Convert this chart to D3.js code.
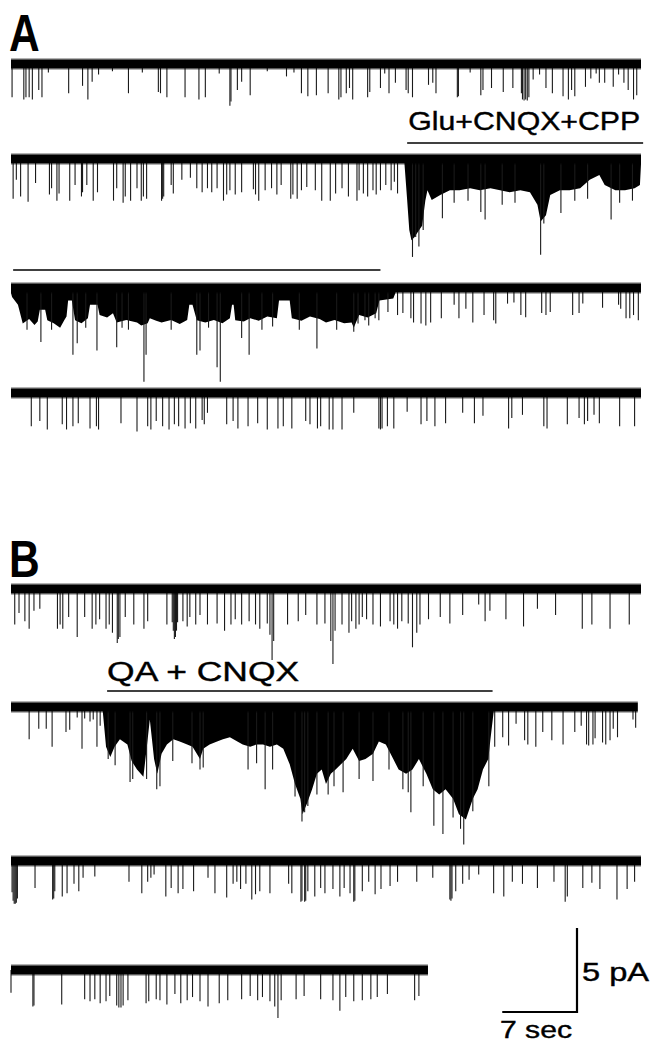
<!DOCTYPE html>
<html><head><meta charset="utf-8">
<script src="https://cdn.jsdelivr.net/npm/d3@7/dist/d3.min.js"></script>
<style>html,body{margin:0;padding:0;background:#fff}svg{display:block}</style>
</head><body>
<script>
// ---- data: time (s) and inward current amplitude (pA) of events ----
const traceA1 = [[0.1,1.98],[1.2,2.11],[1.4,1.98],[1.7,1.98],[2.0,2.11],[2.6,1.55],[2.9,1.98],[3.5,0.5],[5.4,1.74],[6.7,1.3],[7.2,2.11],[7.6,1.05],[8.2,0.62],[9.5,0.43],[11.0,1.74],[12.3,0.5],[13.8,1.67],[14.0,1.74],[14.6,1.98],[16.3,1.98],[17.6,2.11],[18.2,1.98],[19.5,0.56],[20.5,2.48],[20.6,2.23],[21.2,1.55],[21.6,1.05],[22.4,1.86],[24.0,0.43],[25.8,0.74],[26.5,0.5],[27.2,1.74],[27.8,1.92],[28.6,1.86],[29.7,1.74],[30.7,2.11],[30.9,1.98],[31.4,1.74],[31.7,1.43],[32.0,2.11],[33.4,1.98],[33.6,1.67],[34.6,1.43],[35.0,0.56],[35.4,1.74],[36.0,1.12],[37.0,1.55],[37.2,1.74],[37.6,1.98],[39.1,1.24],[39.5,1.12],[39.8,1.74],[41.8,1.98],[41.9,1.92],[43.0,0.5],[44.0,1.86],[44.2,1.55],[45.0,1.43],[46.1,1.67],[47.0,1.43],[47.8,1.74],[47.9,2.11],[48.05,2.17],[48.2,2.11],[48.35,2.17],[48.5,1.98],[48.9,0.93],[49.5,0.62],[50.1,1.43],[50.7,1.74],[51.7,1.92],[52.2,2.11],[52.5,1.55],[52.8,1.92],[53.8,1.36],[54.3,0.87],[54.8,0.56],[55.1,1.12],[55.6,1.12],[56.4,1.36],[56.9,0.62],[57.4,1.12],[57.8,1.55],[58.3,2.11],[58.6,1.86]];
const traceA2 = [[0.2,2.36],[0.5,1.24],[0.9,2.23],[1.6,2.54],[2.3,1.43],[3.6,2.11],[3.8,1.74],[4.3,2.48],[4.5,2.05],[5.5,2.48],[6.0,1.55],[6.6,2.23],[6.7,1.98],[7.1,1.55],[7.7,2.48],[8.1,1.98],[9.6,2.48],[9.9,1.74],[10.5,2.6],[10.7,2.23],[11.2,2.48],[11.8,1.74],[12.2,2.48],[12.4,2.23],[12.7,2.36],[14.1,2.48],[14.2,2.36],[14.3,2.23],[15.0,1.55],[15.2,2.05],[16.0,1.24],[16.8,1.12],[17.4,1.74],[17.9,1.98],[18.4,1.74],[18.8,1.98],[19.3,1.74],[19.9,2.48],[20.2,2.11],[20.5,1.86],[21.0,2.11],[21.6,1.98],[22.7,1.8],[22.9,2.11],[23.2,2.48],[23.8,1.86],[24.4,1.74],[24.9,2.11],[25.3,1.55],[26.2,2.36],[26.4,2.11],[26.8,2.36],[27.2,1.86],[27.7,1.67],[28.5,1.86],[29.1,2.48],[29.9,2.48],[30.4,2.05],[31.0,1.74],[31.6,2.23],[32.4,2.48],[32.6,1.86],[33.0,2.05],[33.4,2.23],[33.9,1.86],[34.2,2.11],[34.6,1.86],[35.1,1.55],[35.6,1.86],[35.9,1.36],[36.2,2.05],
  [37.6,5.83],[37.9,4.65],[38.2,5.21],[38.6,4.22],[40.4,3.53],[41.5,2.6],[42.8,2.48],[44.0,3.16],[44.4,3.6],[46.0,2.73],[47.2,2.6],[49.6,5.7],[49.9,3.84],[51.5,3.22],[52.8,2.48],[54.0,2.36],[56.2,3.6],[57.0,2.6],[58.2,2.48]];
const burstA2 = [[36.85,0.3],[37.1,2.44],[37.3,4.22],[37.5,4.84],[37.8,4.65],[38.1,4.34],[38.5,3.97],[38.8,2.48],[39.0,1.86],[39.4,2.44],[40.2,2.15],[41.1,1.86],[42.0,1.86],[43.0,1.74],[43.9,1.86],[44.9,1.74],[45.8,1.86],[46.7,1.98],[47.7,1.86],[48.6,1.98],[49.3,2.73],[49.6,3.72],[50.1,3.35],[50.5,2.15],[51.4,1.86],[52.3,1.86],[53.3,1.74],[54.2,1.24],[55.1,0.95],[55.6,1.55],[56.6,1.86],[57.5,1.86],[58.4,1.74],[58.9,1.55],[59.0,0.3]];
const traceA3 = [[1.5,2.48],[2.8,3.22],[3.8,2.48],[5.8,3.97],[6.2,3.29],[7.0,2.36],[8.05,3.72],[9.9,3.53],[10.4,2.36],[11.0,2.48],[12.45,5.58],[12.65,3.97],[15.0,2.48],[17.4,3.97],[17.7,3.72],[18.5,2.36],[19.3,4.71],[19.6,5.58],[21.6,2.98],[22.3,3.97],[23.5,2.48],[24.5,2.29],[27.0,2.48],[28.65,3.6],[30.5,2.48],[32.1,2.6],[33.5,2.23],
  [32.5,2.11],[33.15,1.92],[34.1,1.8],[34.45,1.92],[35.3,1.43],[36.2,1.61],[36.7,1.49],[37.45,1.8],[37.7,2.05],[38.4,2.11],[38.85,2.23],[39.3,2.05],[40.3,1.8],[41.5,0.99],[41.95,1.8],[42.6,1.24],[43.25,2.05],[44.3,1.61],[45.2,1.92],[45.4,2.11],[46.5,0.93],[47.1,0.87],[47.75,1.61],[48.2,1.74],[49.7,1.49],[50.1,1.61],[50.5,1.43],[52.6,1.61],[53.2,1.49],[53.55,0.93],[55.4,1.18],[56.9,0.99],[57.1,1.24],[57.6,1.8],[57.95,1.8],[58.3,1.61],[58.75,1.92]];
const burstA3 = [[0.0,0.3],[0.1,0.53],[0.65,0.99],[1.1,2.11],[1.7,1.85],[2.2,2.2],[2.5,2.0],[2.7,1.3],[3.2,1.3],[3.4,1.92],[4.0,2.1],[4.6,2.36],[5.0,1.9],[5.2,1.7],[5.35,0.74],[5.7,0.74],[6.0,1.92],[6.6,2.1],[7.2,1.8],[7.4,0.99],[8.1,0.99],[8.3,1.61],[9.0,1.75],[9.55,1.5],[9.9,2.05],[10.8,1.9],[11.8,2.05],[12.2,2.23],[12.8,2.1],[13.0,1.8],[13.6,1.95],[14.1,2.05],[15.0,1.9],[15.8,2.15],[16.5,1.9],[16.7,0.99],[17.0,0.99],[17.4,1.92],[18.2,2.05],[19.0,1.9],[19.8,2.1],[20.5,1.8],[20.7,0.99],[20.85,0.99],[21.0,1.92],[21.8,2.0],[22.4,1.8],[23.2,1.95],[24.0,1.7],[24.9,1.8],[25.1,0.74],[26.1,0.74],[26.3,1.8],[27.2,1.95],[28.0,1.7],[28.9,1.85],[29.5,2.05],[30.3,1.9],[31.2,2.1],[31.9,2.05],[32.1,2.36],[32.6,1.61],[33.4,1.75],[34.2,1.5],[34.5,0.74],[35.8,0.62],[36.0,0.3]];
const traceA4 = [[1.9,1.98],[2.7,1.67],[3.4,2.17],[4.8,1.86],[5.2,2.17],[5.8,1.98],[6.3,1.8],[7.4,2.11],[8.0,1.98],[8.2,2.17],[10.3,1.8],[11.8,2.29],[12.8,1.98],[13.1,2.17],[13.6,1.67],[14.2,1.98],[14.8,2.17],[15.3,1.86],[15.7,1.98],[16.3,2.11],[16.8,1.8],[17.3,2.11],[17.9,1.61],[18.1,1.86],[18.4,1.18],[20.2,1.86],[20.8,1.67],[21.25,2.11],[22.2,1.98],[23.1,1.8],[24.0,2.17],[25.0,2.11],[25.5,1.98],[26.3,2.11],[27.6,1.67],[28.0,1.86],[28.7,2.11],[29.0,1.98],[29.8,2.17],[30.15,2.17],[31.0,2.17],[32.1,1.18],[34.45,2.11],[34.6,2.17],[34.75,2.11],[35.25,1.98],[35.85,2.11],[37.1,1.12],[38.4,1.86],[38.95,1.67],[39.7,1.98],[40.7,1.8],[42.3,1.18],[43.4,1.8],[44.2,1.36],[46.6,2.11],[46.9,1.49],[47.9,1.3],[49.9,1.98],[50.2,2.11],[52.1,1.86],[53.2,1.49],[53.7,1.86],[54.0,1.67],[54.6,1.3],[55.1,1.8],[57.0,1.98],[58.4,1.98]];
const traceB1 = [[0.35,2.11],[0.75,1.43],[1.3,1.92],[1.7,2.36],[2.15,1.3],[2.7,1.18],[4.35,2.36],[4.6,2.11],[4.85,2.36],[5.4,1.67],[6.2,2.85],[6.9,1.67],[7.6,2.36],[7.95,2.11],[8.3,1.8],[8.9,2.36],[9.2,2.11],[9.5,2.6],[9.95,3.22],[10.05,2.98],[10.2,2.85],[10.7,1.67],[11.5,2.11],[12.45,2.36],[12.8,1.92],[14.6,2.11],[15.1,1.98],[15.2,2.48],[15.3,2.98],[15.4,2.85],[15.5,2.48],[15.6,1.98],[16.1,1.92],[16.5,2.23],[16.75,1.67],[17.3,2.11],[17.7,1.55],[18.4,2.11],[19.3,2.05],[20.0,2.48],[20.6,2.11],[21.0,1.8],[21.6,2.11],[22.3,1.92],[22.9,2.11],[23.3,2.36],[24.0,2.05],[24.25,2.73],[24.45,4.22],[24.6,3.1],[25.9,2.11],[26.9,1.92],[27.6,1.55],[28.65,2.11],[29.4,2.05],[29.95,3.1],[30.15,4.46],[30.35,2.48],[31.0,2.11],[31.65,2.6],[31.9,1.92],[32.3,2.36],[32.6,2.11],[32.9,1.67],[33.3,1.8],[33.9,2.11],[34.6,2.23],[35.5,1.92],[35.85,2.11],[36.2,2.36],[36.6,1.92],[37.2,2.05],[37.6,3.47],[38.0,2.6],[38.3,2.11],[39.1,1.8],[40.2,1.67],[41.1,2.05],[42.3,1.55],[43.8,0.93],[44.4,1.92],[44.85,1.3],[46.35,1.8],[48.0,2.23],[49.3,1.18],[51.0,1.55],[53.5,2.36],[54.4,2.11],[56.1,2.36],[57.9,2.11]];
const traceB2 = [[1.7,1.92],[2.6,1.3],[3.3,1.3],[3.85,2.36],[5.15,1.49],[5.5,1.36],[6.2,0.62],[6.65,2.48],[6.9,0.68],[7.4,0.87],[7.7,0.74],[8.05,2.36],[8.35,1.12],
  [9.1,3.1],[9.75,3.47],[11.15,4.46],[11.4,4.28],[12.7,4.28],[13.65,4.9],[13.95,4.71],[15.15,3.22],[16.95,3.35],[17.7,3.72],[18.0,3.6],[22.2,3.72],[23.0,3.35],[23.8,4.9],[24.5,3.72],[26.6,5.33],[27.25,6.82],[27.5,6.26],[27.8,5.89],[28.65,5.21],[29.7,5.21],[30.25,4.71],[31.1,5.08],[32.6,4.28],[33.9,4.4],[35.4,3.72],[36.7,4.9],[37.2,5.08],[37.45,6.26],[38.6,4.71],[39.6,7.07],[40.45,7.56],[41.4,6.57],[42.1,7.25],[42.4,8.18],[43.25,6.2],[44.75,4.71],
  [45.3,2.36],[46.05,1.8],[46.6,2.29],[47.3,0.99],[48.1,1.98],[48.4,2.23],[49.15,2.36],[49.8,1.49],[50.65,1.98],[51.7,2.23],[52.8,1.49],[53.4,1.12],[53.9,2.23],[54.1,2.29],[54.5,2.23],[54.7,1.86],[55.4,2.11],[55.7,2.23],[56.1,1.98],[56.4,1.3],[56.8,1.8],[58.25,0.74],[58.5,1.24]];
const burstB2 = [[8.6,0.3],[8.9,2.36],[9.3,2.98],[9.7,2.36],[10.2,1.92],[10.9,2.23],[11.3,3.22],[11.8,3.72],[12.4,4.15],[12.7,2.48],[13.0,0.74],[13.4,3.1],[13.7,3.97],[14.1,2.79],[14.6,2.23],[15.2,1.92],[15.8,2.05],[16.5,2.23],[17.0,2.36],[17.7,3.1],[18.0,2.48],[18.6,2.23],[19.3,2.05],[19.85,1.92],[20.5,1.8],[21.2,2.05],[21.7,2.23],[22.4,2.36],[23.0,2.23],[23.6,2.23],[24.25,2.36],[24.9,2.23],[25.5,2.48],[26.1,3.41],[26.6,4.59],[27.1,5.46],[27.3,6.39],[27.7,5.77],[28.2,4.9],[28.65,3.97],[29.1,3.72],[29.5,4.59],[29.95,3.97],[30.4,3.72],[30.9,3.41],[31.4,3.1],[32.0,2.48],[32.6,3.22],[33.2,3.1],[33.9,2.79],[34.45,2.05],[35.1,2.23],[35.8,3.1],[36.3,3.72],[37.0,3.97],[37.6,3.72],[38.2,3.1],[38.9,3.97],[39.5,4.9],[40.1,5.21],[40.7,4.9],[41.4,5.46],[41.95,6.39],[42.6,6.7],[43.25,5.46],[43.7,4.9],[44.2,3.72],[44.7,3.1],[44.9,1.92],[45.2,0.3]];
const traceB3 = [[0.1,1.86],[0.2,2.36],[0.3,2.54],[0.4,2.54],[0.5,2.48],[0.6,2.23],[2.25,1.61],[3.9,2.29],[4.0,2.23],[4.1,1.8],[4.8,2.11],[5.25,1.92],[5.9,1.36],[6.35,1.8],[6.75,0.99],[7.85,0.93],[11.05,1.24],[12.25,1.92],[12.8,1.24],[13.1,0.99],[13.4,0.8],[14.5,2.11],[15.0,1.61],[15.65,1.92],[16.1,1.67],[17.1,1.8],[18.45,0.99],[19.1,1.92],[20.2,2.17],[20.8,1.36],[21.15,1.24],[21.5,1.67],[22.0,1.36],[22.55,2.29],[22.9,1.98],[23.3,1.8],[24.25,1.92],[26.0,1.36],[26.3,1.92],[27.15,2.42],[27.25,2.36],[27.5,2.42],[27.6,2.36],[27.8,1.8],[28.45,2.11],[29.0,1.61],[29.4,1.92],[30.15,1.67],[30.8,2.11],[31.2,1.61],[31.75,1.92],[32.1,2.42],[32.2,2.36],[32.9,1.8],[33.5,1.24],[34.1,1.98],[34.65,1.67],[35.5,1.49],[36.2,1.24],[38.0,1.24],[39.5,0.99],[41.1,2.29],[41.2,2.36],[41.3,2.23],[41.65,1.8],[42.3,1.36],[42.9,1.12],[43.8,0.8],[45.2,1.92],[46.15,2.11],[46.95,1.24],[47.9,1.36],[49.3,1.61],[50.85,1.24],[51.9,2.42],[52.1,2.11],[53.55,1.61],[54.4,1.3],[55.15,1.67],[56.75,2.29],[57.7,1.67],[58.4,1.24]];
const traceB4 = [[0.0,1.36],[2.05,2.17],[2.15,2.11],[4.75,2.05],[6.9,1.74],[7.4,1.86],[7.85,1.74],[8.35,1.98],[8.9,1.86],[9.25,1.55],[9.9,2.11],[10.1,2.23],[10.3,2.23],[10.5,2.11],[10.95,1.8],[12.65,1.98],[12.9,1.86],[13.6,1.74],[13.95,1.8],[14.6,2.05],[15.35,1.43],[15.9,1.98],[16.5,1.8],[17.0,1.61],[17.7,1.86],[18.45,2.17],[19.5,1.98],[20.3,1.8],[21.6,1.74],[22.4,1.55],[23.1,1.8],[23.55,1.61],[24.25,1.86],[24.7,2.17],[25.0,2.85],[25.3,1.8],[26.7,1.74],[27.45,1.55],[29.0,1.74],[30.15,1.8],[30.8,2.42],[31.35,1.61],[32.1,1.86],[32.9,1.8],[33.7,1.74],[34.3,1.61],[35.25,1.43],[37.8,1.8],[38.2,1.55]];
// duration of each sweep (s)
const sweepA = [59, 59, 59, 59];
const sweepB = [59, 58.7, 59, 39.05];
// annotation texts and drug-application windows (s)
const panelLabels = ["A", "B"];
const drugLabels = ["Glu+CNQX+CPP", "QA + CNQX"];
const drugGlu = [[37.1, 59.2], [0.2, 34.6]];   // bar spans two sweeps
const drugQA = [9.0, 45.1];
const scaleBar = {pA: 5, sec: 7, pALabel: "5 pA", secLabel: "7 sec"};

// ---- drawing ----
const W = 652, H = 1046;
const svg = d3.select("body").append("svg").attr("width", W).attr("height", H);
const x = d3.scaleLinear().domain([0, 59]).range([11, 641]);
const amp = d3.scaleLinear().domain([0, 5]).range([0, 84]);
const FONT = "'Liberation Sans', Arial, Helvetica, sans-serif";

function drawTrace(yc, dur, events, burst) {
  const g = svg.append("g");
  if (burst) {
    g.append("path").datum(burst)
      .attr("d", d3.area().x(d => x(d[0])).y0(yc).y1(d => yc + amp(d[1])))
      .attr("fill", "#000");
  }
  g.selectAll("line.ev").data(events).join("line")
    .attr("x1", d => x(d[0])).attr("x2", d => x(d[0]))
    .attr("y1", yc).attr("y2", d => yc + amp(d[1]))
    .attr("stroke", "#1a1a1a").attr("stroke-width", 1.1);
  g.append("rect").attr("x", x(0)).attr("width", x(dur) - x(0))
    .attr("y", yc - 6).attr("height", 12).attr("fill", "#000").attr("opacity", 0.3);
  g.append("rect").attr("x", x(0)).attr("width", x(dur) - x(0))
    .attr("y", yc - 4.5).attr("height", 9).attr("fill", "#000");
}

const yA = [64, 159, 288, 393];
const yB = [589, 707, 861, 970];
drawTrace(yA[0], sweepA[0], traceA1);
drawTrace(yA[1], sweepA[1], traceA2, burstA2);
drawTrace(yA[2], sweepA[2], traceA3, burstA3);
drawTrace(yA[3], sweepA[3], traceA4);
drawTrace(yB[0], sweepB[0], traceB1);
drawTrace(yB[1], sweepB[1], traceB2, burstB2);
drawTrace(yB[2], sweepB[2], traceB3);
drawTrace(yB[3], sweepB[3], traceB4);

// panel letters
[[panelLabels[0], 51], [panelLabels[1], 577]].forEach(([t, y]) => {
  svg.append("text").text(t).attr("transform", `translate(9,${y}) scale(0.85,1.05)`)
    .attr("font-family", FONT).attr("font-weight", "bold").attr("font-size", 50).attr("fill", "#000");
});

// drug application bars & labels
const textStyle = sel => sel.attr("font-family", FONT).attr("fill", "#000").attr("stroke", "#000").attr("stroke-width", 0.4);
svg.append("text").text(drugLabels[0]).attr("x", x(37.2)).attr("y", 130).call(textStyle)
  .attr("font-size", 26).attr("textLength", 232).attr("lengthAdjust", "spacingAndGlyphs");
svg.append("line").attr("x1", x(drugGlu[0][0])).attr("x2", x(drugGlu[0][1])).attr("y1", 143).attr("y2", 143)
  .attr("stroke", "#000").attr("stroke-width", 1.6);
svg.append("line").attr("x1", x(drugGlu[1][0])).attr("x2", x(drugGlu[1][1])).attr("y1", 270).attr("y2", 270)
  .attr("stroke", "#000").attr("stroke-width", 1.6);
svg.append("text").text(drugLabels[1]).attr("x", x(9.0)).attr("y", 681).call(textStyle)
  .attr("font-size", 27).attr("textLength", 192).attr("lengthAdjust", "spacingAndGlyphs");
svg.append("line").attr("x1", x(drugQA[0])).attr("x2", x(drugQA[1])).attr("y1", 691).attr("y2", 691)
  .attr("stroke", "#000").attr("stroke-width", 1.6);

// scale bar
const sbX = 577, sbY = 1012;
svg.append("path")
  .attr("d", `M${sbX},${sbY - amp(scaleBar.pA)}V${sbY}H${sbX - (x(scaleBar.sec) - x(0))}`)
  .attr("fill", "none").attr("stroke", "#000").attr("stroke-width", 2.2);
svg.append("text").text(scaleBar.pALabel).attr("x", 582).attr("y", 981).call(textStyle)
  .attr("font-size", 25).attr("textLength", 67).attr("lengthAdjust", "spacingAndGlyphs");
svg.append("text").text(scaleBar.secLabel).attr("x", 500).attr("y", 1038).call(textStyle)
  .attr("font-size", 23).attr("textLength", 72).attr("lengthAdjust", "spacingAndGlyphs");
</script>
</body></html>
